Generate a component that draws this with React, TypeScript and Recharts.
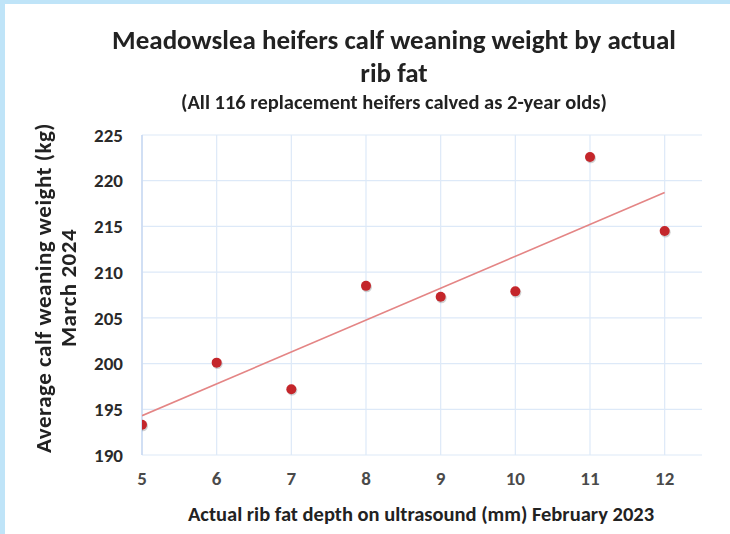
import { Scatter, ScatterChart, CartesianGrid, XAxis, YAxis } from "recharts";

// Actual rib fat depth (mm) and average calf weaning weight (kg)
const ribFat = [5, 6, 7, 8, 9, 10, 11, 12];
const weaningWeight = [193.3, 200.1, 197.2, 208.5, 207.3, 207.9, 222.6, 214.5];

// linear trend line end points as drawn
const trendX = [5, 12];
const trendY = [194.3, 218.7];

const xTicks = [5, 6, 7, 8, 9, 10, 11, 12];
const yTicks = [190, 195, 200, 205, 210, 215, 220, 225];

const FONT = "Carlito, Lato, 'Open Sans', sans-serif";
const GRID = "#dde9f8";
const DOT = "#c4262b";
const TREND = "#e48585";

const points = ribFat.map((x, i) => ({ x, y: weaningWeight[i] }));
const trend = trendX.map((x, i) => ({ x, y: trendY[i] }));

function Dot(props: { cx?: number; cy?: number }) {
  const { cx = 0, cy = 0 } = props;
  return (
    <g>
      <circle cx={cx + 0.8} cy={cy + 1.2} r={5.2} fill="#000" opacity={0.18} />
      <circle cx={cx} cy={cy} r={5} fill={DOT} />
    </g>
  );
}

export default function App() {
  return (
    <div
      style={{
        position: "fixed",
        left: 0,
        top: 0,
        width: 730,
        height: 534,
        background: "#bfe4f8",
        fontFamily: FONT,
        color: "#222",
      }}
    >
      <div
        style={{
          position: "absolute",
          left: 5,
          top: 4,
          right: 0,
          bottom: 0,
          background: "#fff",
        }}
      />
      <div style={{ position: "absolute", left: 0, top: 0 }}>
        <ScatterChart
          width={730}
          height={534}
          margin={{ top: 135, right: 28, bottom: 39, left: 0 }}
        >
          <CartesianGrid stroke={GRID} strokeWidth={1.2} verticalValues={xTicks} horizontalValues={yTicks} />
          <XAxis
            type="number"
            dataKey="x"
            domain={[5, 12.5]}
            ticks={xTicks}
            allowDataOverflow
            height={40}
            axisLine={false}
            tickLine={false}
            tickMargin={11}
            tick={{ fontSize: 19, fill: "#4a4a4a", fontWeight: 600, fontFamily: FONT }}
          />
          <YAxis
            type="number"
            dataKey="y"
            domain={[190, 225]}
            ticks={yTicks}
            width={142}
            axisLine={{ stroke: "#c8d9f2", strokeWidth: 1.5 }}
            tickLine={false}
            tickMargin={13}
            tick={{ fontSize: 19, fill: "#2a2a2a", fontWeight: 700, fontFamily: FONT }}
          />
          <Scatter
            data={trend}
            line={{ stroke: TREND, strokeWidth: 1.6 }}
            shape={() => <g />}
            isAnimationActive={false}
          />
          <Scatter data={points} shape={Dot} isAnimationActive={false} />
        </ScatterChart>
      </div>

      <div
        style={{
          position: "absolute",
          left: 44,
          width: 700,
          top: 23,
          textAlign: "center",
          fontSize: 27,
          fontWeight: 700,
          lineHeight: "33px",
        }}
      >
        <div>Meadowslea heifers calf weaning weight by actual</div>
        <div>rib fat</div>
      </div>
      <div
        style={{
          position: "absolute",
          left: 44,
          width: 700,
          top: 89,
          textAlign: "center",
          fontSize: 20.5,
          fontWeight: 700,
        }}
      >
        (All 116 replacement heifers calved as 2-year olds)
      </div>

      <div
        style={{
          position: "absolute",
          left: 56,
          top: 288,
          width: 420,
          transform: "translate(-50%, -50%) rotate(-90deg)",
          textAlign: "center",
          fontSize: 23,
          letterSpacing: 0.5,
          fontWeight: 700,
          lineHeight: "25px",
        }}
      >
        <div>Average calf weaning weight (kg)</div>
        <div>March 2024</div>
      </div>

      <div
        style={{
          position: "absolute",
          left: 121,
          width: 600,
          top: 501,
          textAlign: "center",
          fontSize: 20.5,
          fontWeight: 700,
        }}
      >
        Actual rib fat depth on ultrasound (mm) February 2023
      </div>
    </div>
  );
}
